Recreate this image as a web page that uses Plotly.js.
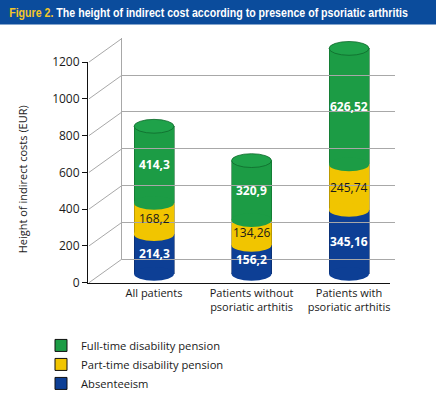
<!DOCTYPE html>
<html>
<head>
<meta charset="utf-8">
<script src="https://cdn.plot.ly/plotly-3.0.1.min.js"></script>
<style>html,body{margin:0;padding:0;background:#fff;}#chart{width:436px;height:398px;}</style>
</head>
<body>
<div id="chart"></div>
<script>
// ---- data ----
const categories = ['All patients', 'Patients without<br>psoriatic arthitis', 'Patients with<br>psoriatic arthitis'];
const absenteeism = [214.3, 156.2, 345.16];
const partTime = [168.2, 134.26, 245.74];
const fullTime = [414.3, 320.9, 626.52];
const seriesNames = ['Absenteeism', 'Part-time disability pension', 'Full-time disability pension'];
const yTicks = [0, 200, 400, 600, 800, 1000, 1200];

// ---- geometry / style ----
const W = 436, H = 398;
const px = v => v / W;
const py = v => 1 - v / H;
const FRONT = {x0: 88, x1: 390, yBot: 287, yTop: 63};
const BACK = {x0: 122, x1: 395, yBot: 263, yTop: 39};
const BAR = {zeroPx: 278, pxPerUnit: 0.188, rMin: -80, rMax: 1300};
const xRange = [-0.677, 2.42];
const barW = 0.41;
const ellH = 7 / BAR.pxPerUnit;
const TITLE_WIDTH = 399;

const colors = ['#0d3f95', '#f1c500', '#1c9c45'];
const edge = ['#0a2a66', '#9a7d00', '#0f6a2c'];
const capColor = '#1fa24a';
const font = '"Open Sans", "Noto Sans", sans-serif';

const series = [absenteeism, partTime, fullTime];
const xs = categories.map((c, i) => i);
const fmt = v => String(v).replace('.', ',');

const traces = [];
series.forEach((s, k) => {
  traces.push({
    type: 'bar', x: xs, y: s, xaxis: 'x', yaxis: 'y2', width: barW,
    marker: {color: colors[k], line: {color: edge[k], width: 0.6}},
    showlegend: false, hoverinfo: 'skip', name: seriesNames[k]
  });
});
// legend-only swatches (on the front axes so those are drawn too)
series.forEach((s, k) => {
  traces.push({
    type: 'bar', x: [null], y: [null], xaxis: 'x', yaxis: 'y',
    marker: {color: colors[k], line: {color: '#111', width: 1}},
    name: seriesNames[k], showlegend: true, hoverinfo: 'skip'
  });
});
// back wall subplot
traces.push({type: 'scatter', x: [null], y: [null], xaxis: 'x3', yaxis: 'y3', showlegend: false, hoverinfo: 'skip'});

const shapes = [];
const annotations = [];
// title band
shapes.push({type: 'rect', xref: 'paper', yref: 'paper', x0: 0, x1: 1, y0: py(25), y1: 1, fillcolor: '#0b4c9c', line: {width: 0}, layer: 'below'});
annotations.push({
  xref: 'paper', yref: 'paper', x: px(7), y: py(12.5), xanchor: 'left', yanchor: 'middle', showarrow: false,
  text: '<b><span style="color:#f3c62a">Figure 2.</span> The height of indirect cost according to presence of psoriatic arthritis</b>',
  font: {family: '"Liberation Sans", Arial, sans-serif', size: 13, color: '#ffffff'}
});
// floor / wall diagonals
yTicks.forEach(t => {
  const f = FRONT.yBot - (FRONT.yBot - FRONT.yTop) * t / 1200;
  const b = BACK.yBot - (BACK.yBot - BACK.yTop) * t / 1200;
  shapes.push({type: 'line', xref: 'paper', yref: 'paper', x0: px(FRONT.x0 + 1), y0: py(f), x1: px(BACK.x0), y1: py(b), line: {color: '#a8a8a8', width: 1}, layer: 'below'});
});
// cylinder ellipses + value labels
xs.forEach(i => {
  let base = 0;
  series.forEach((s, k) => {
    shapes.push({type: 'circle', xref: 'x', yref: 'y2', x0: i - barW / 2, x1: i + barW / 2, y0: base - ellH, y1: base + ellH, fillcolor: colors[k], line: {width: 0}});
    annotations.push({
      xref: 'x', yref: 'y2', x: i, y: base + s[i] / 2, showarrow: false, text: k === 1 ? fmt(s[i]) : '<b>' + fmt(s[i]) + '</b>',
      font: {family: font, size: 12, color: k === 1 ? '#1a1a1a' : '#ffffff'}
    });
    base += s[i];
  });
  shapes.push({type: 'circle', xref: 'x', yref: 'y2', x0: i - barW / 2, x1: i + barW / 2, y0: base - ellH, y1: base + ellH, fillcolor: capColor, line: {color: edge[2], width: 0.8}});
});
// y axis title
annotations.push({xref: 'paper', yref: 'paper', x: px(22), y: py(182), xanchor: 'center', yanchor: 'middle', textangle: -90, showarrow: false, text: 'Height of indirect costs (EUR)', font: {family: font, size: 11, color: '#1a1a1a'}});

const layout = {
  width: W, height: H, margin: {l: 0, r: 0, t: 0, b: 0},
  paper_bgcolor: '#ffffff', plot_bgcolor: 'rgba(0,0,0,0)',
  barmode: 'stack', bargap: 0,
  font: {family: font, size: 12, color: '#1a1a1a'},
  xaxis: {domain: [px(FRONT.x0), px(FRONT.x1)], range: xRange, anchor: 'y', tickvals: xs, ticktext: categories,
    showline: true, linecolor: '#111', linewidth: 1, ticks: '', showgrid: false, zeroline: false,
    tickfont: {family: font, size: 11, color: '#1a1a1a'}, fixedrange: true},
  yaxis: {domain: [py(FRONT.yBot), py(FRONT.yTop)], range: [0, 1200], anchor: 'x', tickvals: yTicks,
    showline: true, linecolor: '#111', linewidth: 1, ticks: 'outside', ticklen: 5, tickcolor: '#111',
    showgrid: false, zeroline: false, tickfont: {family: font, size: 12, color: '#1a1a1a'}, fixedrange: true},
  yaxis2: {domain: [py(BAR.zeroPx - BAR.rMin * BAR.pxPerUnit), py(BAR.zeroPx - BAR.rMax * BAR.pxPerUnit)], range: [BAR.rMin, BAR.rMax],
    anchor: 'x', visible: false, fixedrange: true},
  xaxis3: {domain: [px(BACK.x0), px(BACK.x1)], range: [0, 1], anchor: 'y3', visible: false, fixedrange: true},
  yaxis3: {domain: [py(BACK.yBot), py(BACK.yTop)], range: [0, 1200], anchor: 'x3', tickvals: yTicks,
    showgrid: true, gridcolor: '#a8a8a8', gridwidth: 1, zeroline: true, zerolinecolor: '#a8a8a8', zerolinewidth: 1,
    showline: true, linecolor: '#a8a8a8', linewidth: 1, showticklabels: false, ticks: '', fixedrange: true},
  showlegend: true,
  legend: {x: px(41), y: py(336), xanchor: 'left', yanchor: 'top', traceorder: 'reversed',
    font: {family: font, size: 11.2, color: '#1a1a1a'}, bgcolor: 'rgba(0,0,0,0)', tracegroupgap: 0},
  shapes: shapes, annotations: annotations
};

Plotly.newPlot('chart', traces, layout, {displayModeBar: false, staticPlot: true}).then(gd => {
  // the original uses a narrow typeface: squeeze the title horizontally to its width
  gd.querySelectorAll('.annotation-text').forEach(t => {
    if (t.textContent.indexOf('Figure 2.') === 0) {
      const bb = t.getBBox();
      const sx = TITLE_WIDTH / bb.width;
      t.setAttribute('transform', 'matrix(' + sx + ',0,0,1,' + (bb.x * (1 - sx)) + ',0)');
    }
  });
});
</script>
</body>
</html>
